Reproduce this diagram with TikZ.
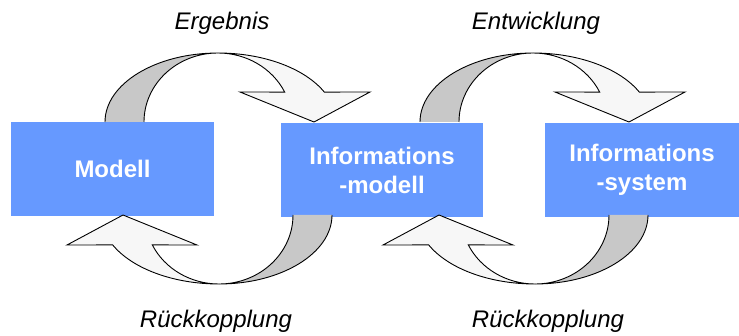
\documentclass[tikz,border=0pt]{standalone}
\usepackage{fontspec}
\setmainfont{Liberation Sans}
\usetikzlibrary{calc}
\definecolor{boxblue}{HTML}{6699FF}
\definecolor{ribbongray}{HTML}{C8C8C8}
\definecolor{ribbonwhite}{HTML}{F7F7F7}
\tikzset{
  x=1pt, y=1pt,
  box/.style={fill=boxblue, draw=none, minimum width=#1, minimum height=94pt, inner sep=0pt,
    text=white, font=\fontsize{24}{29}\selectfont\bfseries, align=center},
  lbl/.style={font=\fontsize{24}{29}\selectfont\itshape, text=black},
  ribbon/.style={draw=black, line width=0.9pt, line join=miter},
  pics/loop/.style={code={
    \fill[ribbongray] (-113,0) arc[start angle=180, end angle=90, x radius=113, y radius=69]
      arc[start angle=90, end angle=180, x radius=74, y radius=69] -- cycle;
    \draw[ribbon] (-113,0) arc[start angle=180, end angle=90, x radius=113, y radius=69]
      arc[start angle=90, end angle=180, x radius=74, y radius=69];
    \draw[ribbon, fill=ribbonwhite] (0,69) arc[start angle=90, end angle=25.7, x radius=118, y radius=69]
      -- (152,30) -- (96,0) -- (22,30) -- (25.7:74 and 69)
      arc[start angle=25.7, end angle=90, x radius=74, y radius=69] -- cycle;
  }}
}
\begin{document}
\begin{tikzpicture}
\useasboundingbox (0,0) rectangle (739,335);
% boxes
\node[box=203pt] (modell) at (112.5,166) {Modell};
\node[box=202pt] (imodell) at (382,165) {Informations\\-modell};
\node[box=194pt] (isystem) at (642,165) {Informations\\-system};
% ribbons
\coordinate (c1) at (218,213);
\coordinate (c2) at (533,213);
\coordinate (c3) at (219,120);
\coordinate (c4) at (535,120);
\pic at (c1) {loop};
\pic at (c2) {loop};
\pic[rotate=180] at (c3) {loop};
\pic[rotate=180] at (c4) {loop};
% labels
\node[lbl] (l1) at (222,312) {Ergebnis};
\node[lbl] (l2) at (536,312) {Entwicklung};
\node[lbl] (l3) at (216,14) {Rückkopplung};
\node[lbl] (l4) at (548,14) {Rückkopplung};
\end{tikzpicture}
\end{document}
